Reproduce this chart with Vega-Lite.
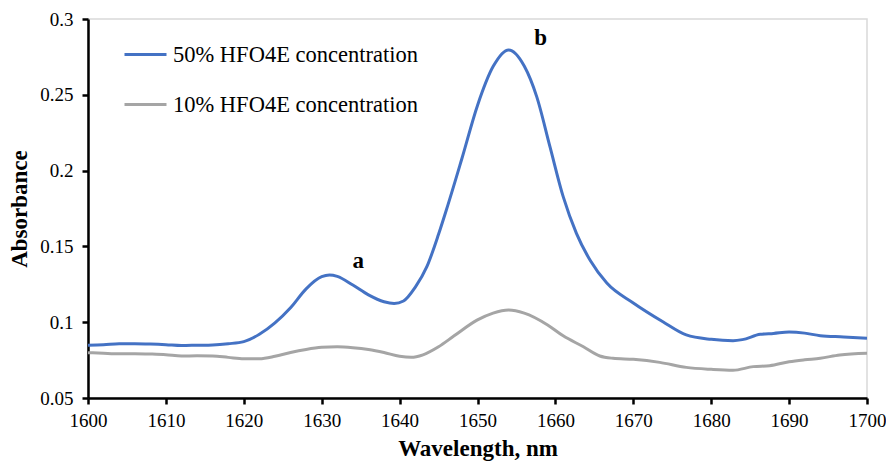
{
  "$schema": "https://vega.github.io/schema/vega-lite/v6.json",
  "autosize": {"type": "none"},
  "padding": {"left": 88, "top": 19, "right": 19, "bottom": 63},
  "width": 779,
  "height": 379,
  "background": "white",
  "config": {
    "view": {"stroke": "#d9d9d9", "strokeWidth": 1.5},
    "font": "Liberation Serif",
    "axis": {
      "grid": false,
      "domainColor": "black",
      "domainWidth": 2.5,
      "tickColor": "black",
      "tickWidth": 2.5,
      "tickSize": 6,
      "labelFont": "Liberation Serif",
      "labelFontSize": 19,
      "labelColor": "black",
      "titleFont": "Liberation Serif",
      "titleFontSize": 23,
      "titleFontWeight": "bold",
      "titleColor": "black"
    }
  },
  "datasets": {
    "spectra": [
      {"wavelength": 1600, "absorbance": 0.0848, "series": "50% HFO4E concentration"},
      {"wavelength": 1602, "absorbance": 0.0851, "series": "50% HFO4E concentration"},
      {"wavelength": 1604, "absorbance": 0.0858, "series": "50% HFO4E concentration"},
      {"wavelength": 1606, "absorbance": 0.0858, "series": "50% HFO4E concentration"},
      {"wavelength": 1608, "absorbance": 0.0856, "series": "50% HFO4E concentration"},
      {"wavelength": 1610, "absorbance": 0.0852, "series": "50% HFO4E concentration"},
      {"wavelength": 1612, "absorbance": 0.0846, "series": "50% HFO4E concentration"},
      {"wavelength": 1614, "absorbance": 0.0848, "series": "50% HFO4E concentration"},
      {"wavelength": 1616, "absorbance": 0.085, "series": "50% HFO4E concentration"},
      {"wavelength": 1618, "absorbance": 0.0858, "series": "50% HFO4E concentration"},
      {"wavelength": 1620, "absorbance": 0.0872, "series": "50% HFO4E concentration"},
      {"wavelength": 1622, "absorbance": 0.092, "series": "50% HFO4E concentration"},
      {"wavelength": 1624, "absorbance": 0.0995, "series": "50% HFO4E concentration"},
      {"wavelength": 1626, "absorbance": 0.1095, "series": "50% HFO4E concentration"},
      {"wavelength": 1628, "absorbance": 0.122, "series": "50% HFO4E concentration"},
      {"wavelength": 1630, "absorbance": 0.13, "series": "50% HFO4E concentration"},
      {"wavelength": 1631, "absorbance": 0.1311, "series": "50% HFO4E concentration"},
      {"wavelength": 1632, "absorbance": 0.1302, "series": "50% HFO4E concentration"},
      {"wavelength": 1634, "absorbance": 0.1245, "series": "50% HFO4E concentration"},
      {"wavelength": 1636, "absorbance": 0.118, "series": "50% HFO4E concentration"},
      {"wavelength": 1638, "absorbance": 0.1135, "series": "50% HFO4E concentration"},
      {"wavelength": 1639.3, "absorbance": 0.1124, "series": "50% HFO4E concentration"},
      {"wavelength": 1640.5, "absorbance": 0.114, "series": "50% HFO4E concentration"},
      {"wavelength": 1642, "absorbance": 0.123, "series": "50% HFO4E concentration"},
      {"wavelength": 1643.5, "absorbance": 0.1366, "series": "50% HFO4E concentration"},
      {"wavelength": 1645, "absorbance": 0.158, "series": "50% HFO4E concentration"},
      {"wavelength": 1646, "absorbance": 0.174, "series": "50% HFO4E concentration"},
      {"wavelength": 1648, "absorbance": 0.208, "series": "50% HFO4E concentration"},
      {"wavelength": 1650, "absorbance": 0.243, "series": "50% HFO4E concentration"},
      {"wavelength": 1652, "absorbance": 0.2686, "series": "50% HFO4E concentration"},
      {"wavelength": 1654, "absorbance": 0.2796, "series": "50% HFO4E concentration"},
      {"wavelength": 1656, "absorbance": 0.269, "series": "50% HFO4E concentration"},
      {"wavelength": 1657.6, "absorbance": 0.2488, "series": "50% HFO4E concentration"},
      {"wavelength": 1659.3, "absorbance": 0.2158, "series": "50% HFO4E concentration"},
      {"wavelength": 1661, "absorbance": 0.1828, "series": "50% HFO4E concentration"},
      {"wavelength": 1662.7, "absorbance": 0.1586, "series": "50% HFO4E concentration"},
      {"wavelength": 1664.5, "absorbance": 0.1405, "series": "50% HFO4E concentration"},
      {"wavelength": 1666.6, "absorbance": 0.1258, "series": "50% HFO4E concentration"},
      {"wavelength": 1670, "absorbance": 0.1127, "series": "50% HFO4E concentration"},
      {"wavelength": 1673.8, "absorbance": 0.1003, "series": "50% HFO4E concentration"},
      {"wavelength": 1676.8, "absorbance": 0.0916, "series": "50% HFO4E concentration"},
      {"wavelength": 1680, "absorbance": 0.0887, "series": "50% HFO4E concentration"},
      {"wavelength": 1682.8, "absorbance": 0.0878, "series": "50% HFO4E concentration"},
      {"wavelength": 1684, "absorbance": 0.0885, "series": "50% HFO4E concentration"},
      {"wavelength": 1686.3, "absorbance": 0.092, "series": "50% HFO4E concentration"},
      {"wavelength": 1688, "absorbance": 0.0926, "series": "50% HFO4E concentration"},
      {"wavelength": 1690, "absorbance": 0.0935, "series": "50% HFO4E concentration"},
      {"wavelength": 1692, "absorbance": 0.0928, "series": "50% HFO4E concentration"},
      {"wavelength": 1694, "absorbance": 0.0911, "series": "50% HFO4E concentration"},
      {"wavelength": 1697, "absorbance": 0.0903, "series": "50% HFO4E concentration"},
      {"wavelength": 1700, "absorbance": 0.0894, "series": "50% HFO4E concentration"},

      {"wavelength": 1600, "absorbance": 0.0799, "series": "10% HFO4E concentration"},
      {"wavelength": 1602, "absorbance": 0.0795, "series": "10% HFO4E concentration"},
      {"wavelength": 1604, "absorbance": 0.0792, "series": "10% HFO4E concentration"},
      {"wavelength": 1606, "absorbance": 0.0792, "series": "10% HFO4E concentration"},
      {"wavelength": 1608, "absorbance": 0.079, "series": "10% HFO4E concentration"},
      {"wavelength": 1610, "absorbance": 0.0786, "series": "10% HFO4E concentration"},
      {"wavelength": 1612, "absorbance": 0.0777, "series": "10% HFO4E concentration"},
      {"wavelength": 1614, "absorbance": 0.0778, "series": "10% HFO4E concentration"},
      {"wavelength": 1616, "absorbance": 0.0777, "series": "10% HFO4E concentration"},
      {"wavelength": 1618, "absorbance": 0.0768, "series": "10% HFO4E concentration"},
      {"wavelength": 1620, "absorbance": 0.0759, "series": "10% HFO4E concentration"},
      {"wavelength": 1622, "absorbance": 0.0759, "series": "10% HFO4E concentration"},
      {"wavelength": 1624, "absorbance": 0.0775, "series": "10% HFO4E concentration"},
      {"wavelength": 1626, "absorbance": 0.08, "series": "10% HFO4E concentration"},
      {"wavelength": 1628, "absorbance": 0.082, "series": "10% HFO4E concentration"},
      {"wavelength": 1630, "absorbance": 0.0834, "series": "10% HFO4E concentration"},
      {"wavelength": 1632, "absorbance": 0.0838, "series": "10% HFO4E concentration"},
      {"wavelength": 1634, "absorbance": 0.0832, "series": "10% HFO4E concentration"},
      {"wavelength": 1636, "absorbance": 0.082, "series": "10% HFO4E concentration"},
      {"wavelength": 1638, "absorbance": 0.08, "series": "10% HFO4E concentration"},
      {"wavelength": 1640, "absorbance": 0.0775, "series": "10% HFO4E concentration"},
      {"wavelength": 1641.5, "absorbance": 0.0768, "series": "10% HFO4E concentration"},
      {"wavelength": 1643, "absorbance": 0.0785, "series": "10% HFO4E concentration"},
      {"wavelength": 1645, "absorbance": 0.0838, "series": "10% HFO4E concentration"},
      {"wavelength": 1647, "absorbance": 0.091, "series": "10% HFO4E concentration"},
      {"wavelength": 1650, "absorbance": 0.1015, "series": "10% HFO4E concentration"},
      {"wavelength": 1652, "absorbance": 0.106, "series": "10% HFO4E concentration"},
      {"wavelength": 1654, "absorbance": 0.108, "series": "10% HFO4E concentration"},
      {"wavelength": 1656, "absorbance": 0.106, "series": "10% HFO4E concentration"},
      {"wavelength": 1659, "absorbance": 0.0982, "series": "10% HFO4E concentration"},
      {"wavelength": 1661, "absorbance": 0.091, "series": "10% HFO4E concentration"},
      {"wavelength": 1663.6, "absorbance": 0.0838, "series": "10% HFO4E concentration"},
      {"wavelength": 1665.7, "absorbance": 0.0777, "series": "10% HFO4E concentration"},
      {"wavelength": 1667.4, "absorbance": 0.0762, "series": "10% HFO4E concentration"},
      {"wavelength": 1670, "absorbance": 0.0755, "series": "10% HFO4E concentration"},
      {"wavelength": 1673.4, "absorbance": 0.0735, "series": "10% HFO4E concentration"},
      {"wavelength": 1676.8, "absorbance": 0.0702, "series": "10% HFO4E concentration"},
      {"wavelength": 1680, "absorbance": 0.0689, "series": "10% HFO4E concentration"},
      {"wavelength": 1682.8, "absorbance": 0.0683, "series": "10% HFO4E concentration"},
      {"wavelength": 1685.4, "absorbance": 0.0707, "series": "10% HFO4E concentration"},
      {"wavelength": 1687.5, "absorbance": 0.0713, "series": "10% HFO4E concentration"},
      {"wavelength": 1690, "absorbance": 0.0739, "series": "10% HFO4E concentration"},
      {"wavelength": 1692, "absorbance": 0.0752, "series": "10% HFO4E concentration"},
      {"wavelength": 1694, "absorbance": 0.0762, "series": "10% HFO4E concentration"},
      {"wavelength": 1696.5, "absorbance": 0.0784, "series": "10% HFO4E concentration"},
      {"wavelength": 1700, "absorbance": 0.0795, "series": "10% HFO4E concentration"}
    ],
    "peaks": [
      {"wavelength": 1634.7, "absorbance": 0.1358, "label": "a"},
      {"wavelength": 1658.1, "absorbance": 0.2829, "label": "b"}
    ]
  },
  "layer": [
    {
      "data": {"name": "spectra"},
      "mark": {"type": "line", "interpolate": "monotone", "strokeWidth": 3, "clip": true},
      "encoding": {
        "x": {
          "field": "wavelength",
          "type": "quantitative",
          "scale": {"domain": [1600, 1700], "nice": false},
          "axis": {
            "title": "Wavelength, nm",
            "values": [1600, 1610, 1620, 1630, 1640, 1650, 1660, 1670, 1680, 1690, 1700],
            "format": "d",
            "labelPadding": 7,
            "titlePadding": 7,
            "labelFlush": false
          }
        },
        "y": {
          "field": "absorbance",
          "type": "quantitative",
          "scale": {"domain": [0.05, 0.3], "nice": false, "zero": false},
          "axis": {
            "title": "Absorbance",
            "values": [0.05, 0.1, 0.15, 0.2, 0.25, 0.3],
            "format": "~g",
            "labelPadding": 9,
            "titlePadding": 8,
            "labelFlush": false
          }
        },
        "color": {
          "field": "series",
          "type": "nominal",
          "scale": {
            "domain": ["50% HFO4E concentration", "10% HFO4E concentration"],
            "range": ["#4472c4", "#a5a5a5"]
          },
          "legend": {
            "title": null,
            "orient": "none",
            "legendX": 35,
            "legendY": 13,
            "symbolType": "stroke",
            "symbolSize": 1764,
            "symbolStrokeWidth": 3,
            "labelFont": "Liberation Serif",
            "labelFontSize": 22.5,
            "labelColor": "black",
            "labelOffset": 5,
            "rowPadding": 16,
            "labelLimit": 400
          }
        }
      }
    },
    {
      "data": {"name": "peaks"},
      "mark": {"type": "text", "font": "Liberation Serif", "fontWeight": "bold", "fontSize": 23, "baseline": "alphabetic", "align": "center", "color": "black"},
      "encoding": {
        "x": {"field": "wavelength", "type": "quantitative"},
        "y": {"field": "absorbance", "type": "quantitative"},
        "text": {"field": "label"}
      }
    }
  ]
}
